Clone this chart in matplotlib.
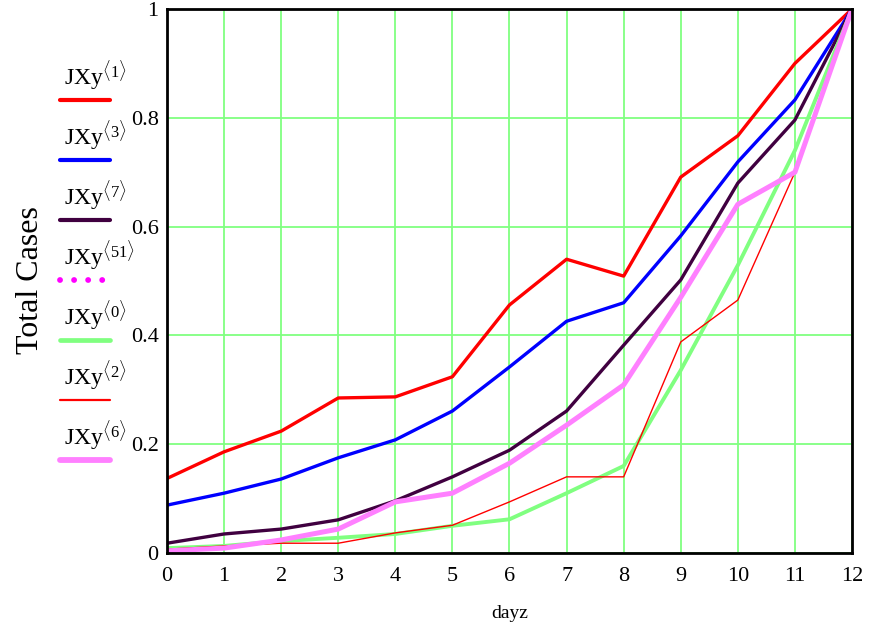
import matplotlib
matplotlib.use('Agg')
import matplotlib.pyplot as plt
from matplotlib.lines import Line2D

plt.rcParams['font.family'] = ['Liberation Serif', 'DejaVu Serif']
plt.rcParams['mathtext.fontset'] = 'custom'
plt.rcParams['mathtext.rm'] = 'Liberation Serif'
plt.rcParams['mathtext.it'] = 'Liberation Serif'

dayz = list(range(13))

# series
jxy1 = [0.137, 0.186, 0.224, 0.285, 0.287, 0.324, 0.456, 0.540, 0.509, 0.691, 0.767, 0.900, 1.0]
jxy3 = [0.088, 0.110, 0.136, 0.175, 0.208, 0.261, 0.342, 0.426, 0.460, 0.583, 0.719, 0.833, 1.0]
jxy7 = [0.018, 0.035, 0.044, 0.061, 0.096, 0.140, 0.189, 0.261, 0.382, 0.502, 0.680, 0.796, 1.0]
jxy51 = [0.004, 0.009, 0.024, 0.044, 0.094, 0.110, 0.165, 0.235, 0.309, 0.470, 0.641, 0.700, 1.0]
jxy0 = [0.009, 0.013, 0.022, 0.028, 0.035, 0.050, 0.062, 0.110, 0.160, 0.336, 0.529, 0.740, 1.0]
jxy2 = [0.007, 0.013, 0.018, 0.018, 0.037, 0.051, 0.094, 0.140, 0.140, 0.388, 0.465, 0.700, 1.0]
jxy6 = [0.004, 0.009, 0.024, 0.044, 0.094, 0.110, 0.165, 0.235, 0.309, 0.470, 0.641, 0.700, 1.0]

dots = (0, (0.01, 2.4))
series = [
    ('1', jxy1, '#ff0000', 2.4, '-'),
    ('3', jxy3, '#0000ff', 2.4, '-'),
    ('7', jxy7, '#400040', 2.4, '-'),
    ('51', jxy51, '#ff00ff', 2.4, dots),
    ('0', jxy0, '#80ff80', 2.8, '-'),
    ('2', jxy2, '#ff0000', 1.0, '-'),
    ('6', jxy6, '#ff80ff', 3.6, '-'),
]

fig = plt.figure(figsize=(8.71, 6.29), dpi=100)
ax = fig.add_axes([0.1917, 0.1208, 0.7865, 0.8649])

for name, vals, color, lw, ls in series:
    ax.plot(dayz, vals, color=color, lw=lw, ls=ls, zorder=3,
            dash_capstyle='round')

ax.set_xlim(0, 12)
ax.set_ylim(0, 1)
ax.set_xticks(dayz)
ax.set_yticks([0, 0.2, 0.4, 0.6, 0.8, 1.0])
ax.set_yticklabels(['0', '0.2', '0.4', '0.6', '0.8', '1'])
ax.grid(True, color='#80ff80', lw=1.3, zorder=1)
ax.tick_params(length=0, labelsize=16)
ax.tick_params(axis='x', pad=10)
ax.tick_params(axis='y', pad=6)
for s in ax.spines.values():
    s.set_linewidth(2)
    s.set_zorder(4)

ax.set_xlabel('dayz', fontsize=14, labelpad=14)
fig.text(0.035, 0.555, 'Total Cases', rotation=90, fontsize=23,
         ha='center', va='center')

# legend drawn by hand: label above a line sample
for i, (name, vals, color, lw, ls) in enumerate(series):
    y_line = 1 - (100 + 60 * i) / 629
    fig.text(64 / 871, y_line + 14 / 629,
             r'JXy$^{\langle ' + name + r'\rangle}$', fontsize=17,
             ha='left', va='baseline')
    if ls == '-':
        fig.add_artist(Line2D([60 / 871, 110 / 871], [y_line, y_line],
                              color=color, lw=lw + 0.6,
                              solid_capstyle='round'))
    else:
        fig.add_artist(Line2D([60 / 871, 104 / 871], [y_line, y_line],
                              color=color, lw=4.2, ls=ls,
                              dash_capstyle='round'))

plt.savefig('out.png', dpi=100)
